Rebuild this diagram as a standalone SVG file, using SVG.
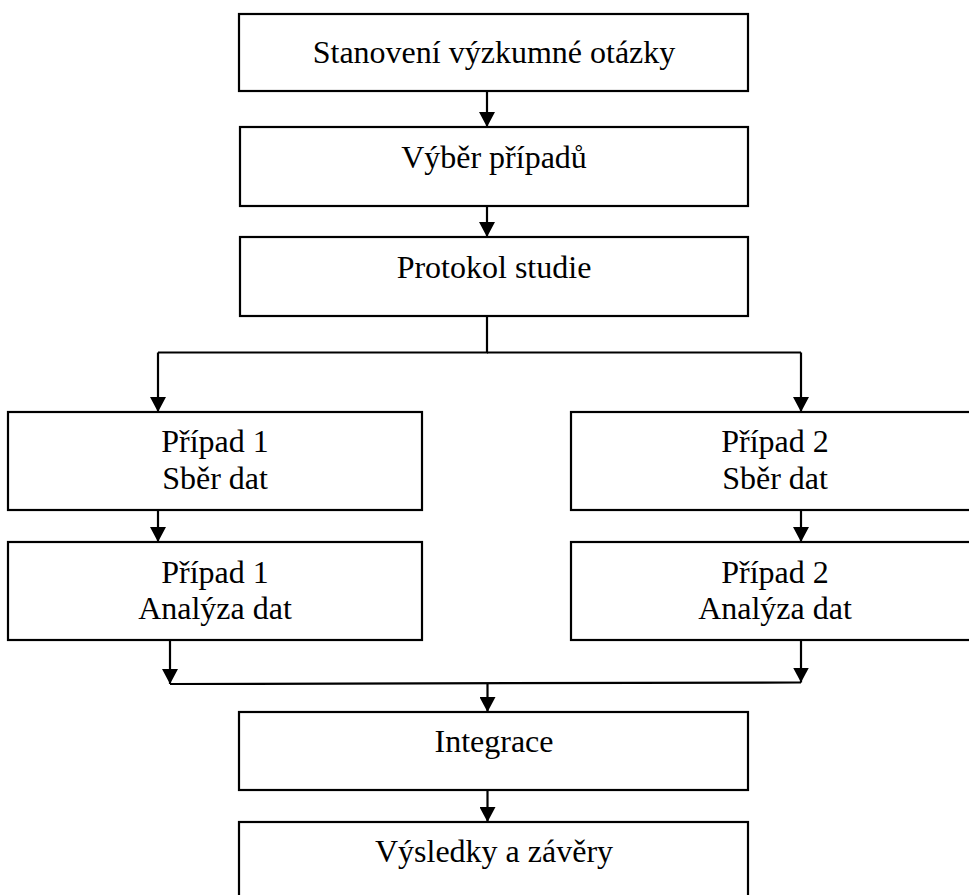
<svg xmlns="http://www.w3.org/2000/svg" width="969" height="895" viewBox="0 0 969 895">
<style>
.box{fill:#fff;stroke:#000;stroke-width:2.2}
.lbl{font-family:"Liberation Serif","Times New Roman",serif;font-size:32px;fill:#000;text-anchor:middle}
.con{fill:none;stroke:#000;stroke-width:2.2}
</style>
<defs>
<marker id="ah" markerUnits="userSpaceOnUse" markerWidth="16" markerHeight="16" viewBox="0 0 16 16" refX="15" refY="8" orient="auto">
<path d="M0,0 L15,8 L0,16 Z" fill="#000"/>
</marker>
</defs>
<rect width="969" height="895" fill="#fff"/>
<g id="n1"><rect class="box" x="239" y="14" width="509" height="77"/><text class="lbl" x="494" y="63">Stanovení výzkumné otázky</text></g>
<g id="n2"><rect class="box" x="240" y="127" width="508" height="79"/><text class="lbl" x="494" y="168">Výběr případů</text></g>
<g id="n3"><rect class="box" x="240" y="237" width="508" height="79"/><text class="lbl" x="494" y="278">Protokol studie</text></g>
<g id="n4"><rect class="box" x="8" y="412" width="414" height="98"/><text class="lbl" x="215" y="452">Případ 1</text><text class="lbl" x="215" y="489">Sběr dat</text></g>
<g id="n5"><rect class="box" x="571" y="412" width="410" height="98"/><text class="lbl" x="775" y="452">Případ 2</text><text class="lbl" x="775" y="489">Sběr dat</text></g>
<g id="n6"><rect class="box" x="8" y="542" width="414" height="98"/><text class="lbl" x="215" y="583">Případ 1</text><text class="lbl" x="215" y="619">Analýza dat</text></g>
<g id="n7"><rect class="box" x="571" y="542" width="410" height="98"/><text class="lbl" x="775" y="583">Případ 2</text><text class="lbl" x="775" y="619">Analýza dat</text></g>
<g id="n8"><rect class="box" x="239" y="712" width="509" height="78"/><text class="lbl" x="494" y="752">Integrace</text></g>
<g id="n9"><rect class="box" x="239" y="822" width="509" height="90"/><text class="lbl" x="494" y="862">Výsledky a závěry</text></g>
<g id="connectors">
<line class="con" x1="487" y1="91" x2="487" y2="127" marker-end="url(#ah)"/>
<line class="con" x1="487" y1="206" x2="487" y2="237" marker-end="url(#ah)"/>
<polyline class="con" points="487,316 487,352.5 158,352.5"/>
<line class="con" x1="487" y1="352.5" x2="801" y2="352.5"/>
<line class="con" x1="158" y1="352.5" x2="158" y2="412" marker-end="url(#ah)"/>
<line class="con" x1="801" y1="352.5" x2="801" y2="412" marker-end="url(#ah)"/>
<line class="con" x1="158" y1="510" x2="158" y2="542" marker-end="url(#ah)"/>
<line class="con" x1="801" y1="510" x2="801" y2="542" marker-end="url(#ah)"/>
<line class="con" x1="170" y1="640" x2="170" y2="684" marker-end="url(#ah)"/>
<line class="con" x1="801" y1="640" x2="801" y2="682.5" marker-end="url(#ah)"/>
<line class="con" x1="170" y1="684" x2="801" y2="682.5"/>
<line class="con" x1="487.5" y1="683" x2="487.5" y2="712" marker-end="url(#ah)"/>
<line class="con" x1="487.5" y1="790" x2="487.5" y2="822" marker-end="url(#ah)"/>
</g>
</svg>
